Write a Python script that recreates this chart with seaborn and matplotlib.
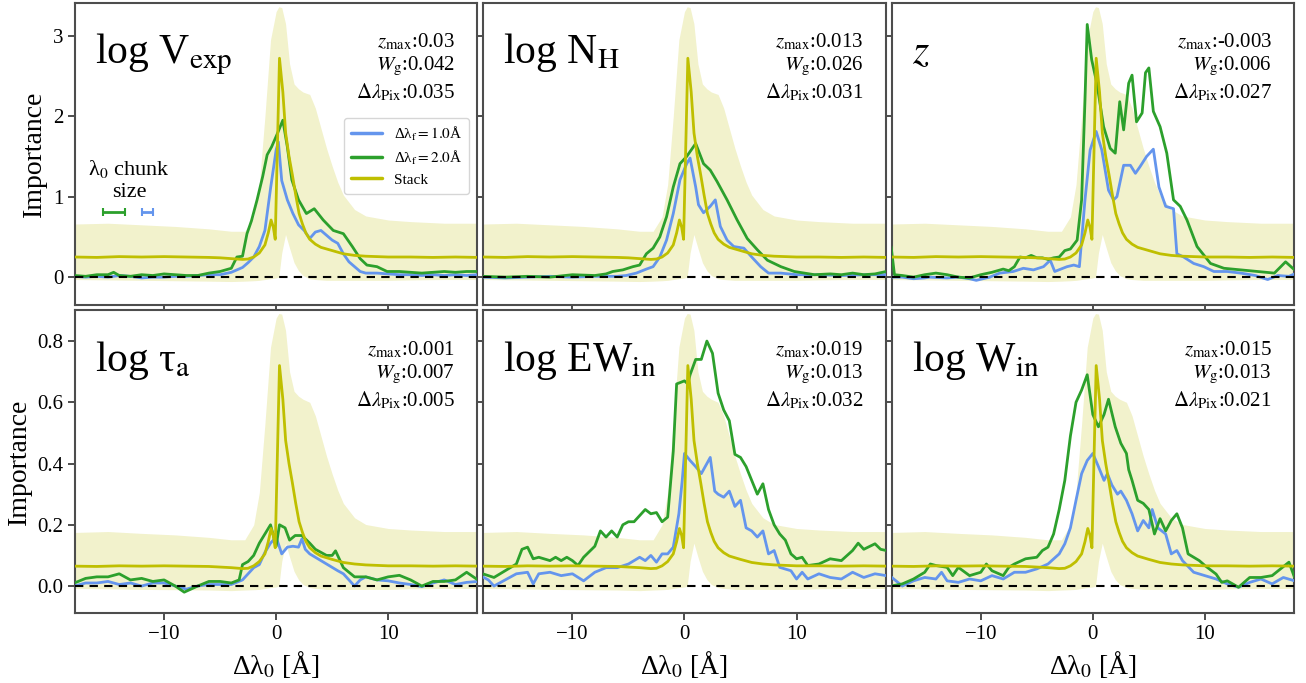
import numpy as np
import matplotlib
matplotlib.use("Agg")
import matplotlib.pyplot as plt
import seaborn as sns

# ---------------- data ----------------
titles = ["log V$_{\\rm exp}$", "log N$_{\\rm H}$", "$z$",
          "log τ$_{\\rm a}$", "log EW$_{\\rm in}$", "log W$_{\\rm in}$"]
zmax_vals = ["0.03", "0.013", "-0.003", "0.001", "0.019", "0.015"]
wg_vals = ["0.042", "0.026", "0.006", "0.007", "0.013", "0.013"]
dpix_vals = ["0.035", "0.031", "0.027", "0.005", "0.032", "0.021"]
legend_labels = ["Δλ$_{\\rm f}=1.0$Å", "Δλ$_{\\rm f}=2.0$Å", "Stack"]

stack_x = [-18, -16, -14, -12, -10, -8, -6, -5, -4, -3, -2.5, -2, -1.5, -1, -0.7, -0.45, -0.25, -0.08,
           0.3, 0.6, 0.85, 1.15, 1.45, 1.75, 2.05, 2.35, 2.65, 3.0, 3.5, 4, 5, 6, 7, 8, 10, 12, 14, 16, 18]
stack_top = [0.25, 0.245, 0.255, 0.25, 0.255, 0.25, 0.245, 0.24, 0.23, 0.22, 0.225, 0.25, 0.3, 0.4, 0.55, 0.71, 0.62, 0.47,
             2.72, 2.3, 1.79, 1.5, 1.27, 1.02, 0.79, 0.66, 0.55, 0.47, 0.41, 0.37, 0.33, 0.29, 0.27, 0.26, 0.25, 0.25, 0.245, 0.25, 0.245]
stack_bot = [0.065, 0.064, 0.066, 0.065, 0.066, 0.065, 0.064, 0.062, 0.06, 0.057, 0.058, 0.066, 0.08, 0.105, 0.145, 0.188, 0.165, 0.125,
             0.72, 0.61, 0.475, 0.4, 0.337, 0.27, 0.21, 0.175, 0.146, 0.125, 0.109, 0.098, 0.087, 0.077, 0.072, 0.069, 0.066, 0.066, 0.065, 0.066, 0.065]

band_x = [-18, -15, -12, -9, -6, -4, -2.8, -2, -1.5, -1, -0.5, 0, 0.24, 0.5, 0.84, 1.2, 1.6, 2.0, 2.4, 3.0,
          3.5, 4.0, 4.5, 5, 5.5, 6, 7, 8, 10, 12, 15, 18]
band_top_hi = [0.66, 0.67, 0.65, 0.63, 0.6, 0.57, 0.57, 0.75, 1.15, 2.0, 2.95, 3.3, 3.36, 3.35, 3.15, 2.65, 2.4, 2.34, 2.3, 2.27,
               2.1, 1.85, 1.6, 1.38, 1.18, 1.02, 0.84, 0.76, 0.71, 0.69, 0.67, 0.67]
band_top_lo = [-0.03, -0.035, -0.04, -0.045, -0.05, -0.055, -0.05, -0.045, -0.04, -0.03, -0.02, -0.01, 0.0, 0.3, 0.53, 0.36, 0.18, 0.08, 0.02, -0.02,
               -0.03, -0.035, -0.04, -0.04, -0.04, -0.04, -0.04, -0.04, -0.04, -0.035, -0.03, -0.03]
band_bot_hi = [0.175, 0.178, 0.172, 0.167, 0.159, 0.151, 0.151, 0.2, 0.305, 0.53, 0.78, 0.875, 0.89, 0.888, 0.835, 0.70, 0.636, 0.62, 0.61, 0.6,
               0.556, 0.49, 0.424, 0.366, 0.313, 0.27, 0.223, 0.201, 0.188, 0.183, 0.178, 0.178]
band_bot_lo = [-0.008, -0.009, -0.011, -0.012, -0.013, -0.015, -0.013, -0.012, -0.011, -0.008, -0.005, -0.003, 0.0, 0.08, 0.14, 0.095, 0.048, 0.021, 0.005, -0.005,
               -0.008, -0.009, -0.011, -0.011, -0.011, -0.011, -0.011, -0.011, -0.011, -0.009, -0.008, -0.008]

# log V_exp
vexp_b_x = [-18, -17, -16, -15, -14, -13, -12, -11, -10, -9, -8, -7, -6, -5, -4, -3, -2.5, -2, -1.5, -1, -0.5, 0, 0.2, 0.5,
            1, 1.5, 2, 2.5, 3, 3.5, 4, 4.5, 5, 5.5, 6, 6.5, 7, 7.5, 8, 9, 10, 11, 12, 13, 14, 15, 16, 17, 18]
vexp_b_y = [0.01, 0.0, 0.01, 0.0, 0.02, 0.01, -0.01, 0.0, 0.0, 0.01, 0.01, 0.02, 0.03, 0.03, 0.06, 0.12, 0.18, 0.25, 0.38, 0.58, 1.1, 1.58, 1.68, 1.2,
            0.96, 0.79, 0.65, 0.58, 0.48, 0.56, 0.58, 0.52, 0.46, 0.42, 0.29, 0.19, 0.13, 0.07, 0.05, 0.05, 0.04, 0.03, 0.03, 0.02, 0.03, 0.02, 0.03, 0.02, 0.03]
vexp_g_x = [-18, -17, -16, -15, -14.5, -14, -13, -12, -11, -10, -9, -8, -7, -6, -5, -4, -3.5, -3, -2.6, -2.2, -1.7, -1.2, -0.8, -0.4,
            0.1, 0.6, 1.0, 1.4, 2.0, 2.7, 3.4, 4.2, 5.1, 6.0, 6.8, 7.5, 8.1, 9.0, 9.9, 11, 12, 13, 14, 15, 16, 17, 18]
vexp_g_y = [0.02, 0.01, 0.03, 0.03, 0.06, 0.02, 0.01, 0.03, 0.02, 0.04, 0.03, 0.02, 0.02, 0.05, 0.07, 0.11, 0.25, 0.26, 0.54, 0.7, 0.96, 1.25, 1.52, 1.62,
            1.78, 1.95, 1.62, 1.21, 0.96, 0.79, 0.85, 0.71, 0.58, 0.54, 0.38, 0.23, 0.15, 0.13, 0.07, 0.07, 0.06, 0.05, 0.06, 0.07, 0.06, 0.07, 0.07]

# log N_H
nh_b_x = [-18, -16, -14, -12, -10, -8, -6, -5.2, -4.3, -3.4, -2.8, -2.2, -1.6, -1.0, -0.4, 0.2, 0.5, 1.0, 1.25, 1.7, 2.3, 2.75, 3.2,
          3.8, 4.4, 5.3, 6.0, 6.8, 7.5, 8.6, 10, 12, 14, 16, 18]
nh_b_y = [0.0, -0.01, 0.0, 0.01, 0.0, 0.01, 0.01, 0.02, 0.05, 0.1, 0.13, 0.25, 0.46, 0.79, 1.21, 1.41, 1.48, 1.12, 0.9, 0.8, 0.88, 0.96, 0.63,
          0.46, 0.38, 0.36, 0.25, 0.13, 0.05, 0.05, 0.03, 0.03, 0.02, 0.03, 0.03]
nh_g_x = [-18, -16, -14, -12, -10, -8, -7, -6.4, -5.5, -4.6, -4, -3.4, -2.8, -2.2, -1.6, -1.0, -0.4, 0.2, 1.0, 1.7, 2.3, 2.9, 3.8,
          4.7, 5.6, 6.5, 7.4, 8.6, 9.8, 11.6, 13, 14, 15, 16, 17, 18]
nh_g_y = [0.01, 0.0, 0.01, 0.0, 0.03, 0.02, 0.04, 0.07, 0.09, 0.13, 0.15, 0.29, 0.36, 0.5, 0.75, 1.12, 1.41, 1.5, 1.66, 1.41, 1.33, 1.19, 0.96,
          0.71, 0.48, 0.34, 0.21, 0.13, 0.07, 0.03, 0.04, 0.03, 0.05, 0.03, 0.04, 0.07]

# z
z_b_x = [-18, -17, -16, -15, -14.6, -13, -12, -11, -10.4, -9.2, -8.3, -7.1, -6.2, -5.3, -4.4, -3.8, -3.4, -2.3, -1.7, -1.2, -0.7, -0.24,
         0.3, 0.8, 1.4, 1.85, 2.15, 2.75, 3.35, 3.8, 4.2, 4.8, 5.4, 5.9, 6.5, 7.2, 7.5, 8.1, 9.0, 9.9, 10.8, 12, 13.2, 14.5, 15.6, 16.5, 17.5, 18]
z_b_y = [0.0, 0.0, -0.02, -0.01, 0.0, -0.01, 0.0, -0.02, -0.04, 0.0, 0.05, 0.07, 0.11, 0.09, 0.13, 0.21, 0.07, 0.13, 0.15, 0.13, 0.96, 1.58,
         1.81, 1.58, 1.08, 0.96, 1.0, 1.39, 1.39, 1.29, 1.37, 1.5, 1.59, 1.12, 0.88, 0.85, 0.29, 0.25, 0.17, 0.13, 0.07, 0.07, 0.05, 0.02, -0.03, 0.02, 0.01, 0.04]
z_g_x = [-18, -17.7, -17, -16, -15, -14, -13, -12, -11, -10, -9, -8, -7.5, -7, -6.5, -6, -5.5, -5, -4.5, -4,
         -3.5, -3, -2.5, -2, -1.4, -1.0, -0.7, -0.5, -0.1, 0.36, 0.96, 1.55, 2.0, 2.4, 2.75, 3.2, 3.5, 3.9, 4.4, 4.7,
         5.0, 5.4, 6.0, 6.6, 7.2, 7.8, 8.4, 9.3, 10.5, 11.7, 13.2, 14.7, 16.2, 17.2, 18]
z_g_y = [0.38, 0.03, 0.02, 0.0, 0.03, 0.05, 0.03, 0.0, -0.01, 0.03, 0.06, 0.1, 0.08, 0.13, 0.25, 0.24, 0.27, 0.24, 0.24, 0.22,
         0.24, 0.25, 0.33, 0.35, 0.46, 0.96, 2.2, 3.14, 2.7, 2.41, 1.87, 1.6, 1.54, 2.18, 1.83, 2.41, 2.51, 1.93, 2.04, 2.54,
         2.6, 2.06, 1.87, 1.54, 0.96, 0.88, 0.71, 0.38, 0.17, 0.11, 0.09, 0.07, 0.05, 0.19, 0.09]

# log tau_a
tau_b_x = [-18, -17, -16, -15, -14, -13, -12, -11, -10, -9, -8, -7, -6, -5, -4, -3, -2.5, -2, -1.5, -1, -0.5, 0, 0.5, 1,
           1.5, 2, 2.3, 2.6, 3, 3.5, 4, 4.5, 5, 5.5, 6, 6.5, 7, 7.5, 8, 9, 10, 11, 12, 13, 14, 15, 16, 17, 18]
tau_b_y = [0.0, 0.01, 0.01, 0.015, 0.005, 0.01, 0.0, 0.01, 0.01, 0.0, -0.01, 0.0, 0.005, 0.005, 0.005, 0.02, 0.04, 0.06, 0.07, 0.11, 0.14, 0.16, 0.105, 0.127,
           0.13, 0.127, 0.154, 0.12, 0.105, 0.094, 0.083, 0.072, 0.061, 0.05, 0.04, 0.02, 0.0, 0.02, 0.03, 0.02, 0.017, 0.01, 0.005, -0.002, 0.01, 0.02, 0.005, 0.012, 0.015]
tau_g_x = [-18, -17, -16, -15, -14, -13, -12, -11, -10, -9, -8.2, -7, -6, -5, -4, -3.3, -3, -2.5, -2, -1.5,
           -1, -0.5, 0, 0.3, 0.8, 1.2, 1.7, 2.3, 3, 3.5, 4, 4.5, 5, 5.3, 6, 7, 8, 9, 10, 11, 12, 13, 14, 15, 16, 17, 18]
tau_g_y = [0.01, 0.025, 0.03, 0.03, 0.04, 0.02, 0.025, 0.015, 0.02, 0.0, -0.02, 0.0, 0.015, 0.015, 0.01, 0.02, 0.07, 0.08, 0.1, 0.14,
           0.17, 0.2, 0.13, 0.2, 0.19, 0.15, 0.165, 0.165, 0.14, 0.12, 0.11, 0.1, 0.1, 0.115, 0.06, 0.03, 0.03, 0.02, 0.03, 0.035, 0.02, 0.0, 0.015, 0.015, 0.02, 0.045, 0.02]

# log EW_in
ew_b_x = [-18, -17.5, -17, -16, -15, -14, -13.5, -13, -12, -11, -10, -9, -8, -7, -6, -5, -4, -3.5, -3, -2.5,
          -2, -1.5, -1, -0.5, -0.2, 0, 0.5, 1, 1.5, 2, 2.3, 2.7, 3, 3.5, 4, 4.5, 5, 5.5, 6, 6.5,
          7, 7.5, 8, 8.5, 9.5, 10, 10.5, 11, 12, 13, 14, 15, 16, 17, 18]
ew_b_y = [0.03, 0.02, 0.0, 0.02, 0.04, 0.045, 0.007, 0.04, 0.045, 0.034, 0.04, 0.017, 0.045, 0.06, 0.06, 0.072, 0.094, 0.083, 0.1, 0.078,
          0.105, 0.105, 0.127, 0.236, 0.345, 0.433, 0.41, 0.39, 0.367, 0.4, 0.42, 0.31, 0.3, 0.29, 0.31, 0.26, 0.28, 0.19, 0.18, 0.16,
          0.18, 0.105, 0.116, 0.061, 0.05, 0.023, 0.045, 0.023, 0.04, 0.028, 0.023, 0.045, 0.028, 0.04, 0.034]
ew_g_x = [-18, -17, -16, -15, -14.5, -14, -13.5, -13, -12, -11.5, -11, -10.5, -10, -9.5, -9, -8, -7.5, -7, -6.5, -6,
          -5.5, -5, -4.5, -4, -3.5, -3, -2.5, -2, -1.5, -1, -0.7, 0, 0.3, 0.5, 1, 1.5, 2, 2.5, 3, 3.5,
          4, 4.5, 5, 5.5, 6, 6.5, 7, 7.5, 8, 8.5, 9, 9.5, 10, 10.5, 11, 12, 13, 14, 15, 15.5, 16, 17, 17.5, 18]
ew_g_y = [0.04, 0.028, 0.05, 0.072, 0.12, 0.127, 0.089, 0.094, 0.083, 0.094, 0.083, 0.094, 0.083, 0.067, 0.094, 0.13, 0.18, 0.16, 0.18, 0.16,
          0.2, 0.21, 0.21, 0.23, 0.25, 0.236, 0.24, 0.21, 0.225, 0.44, 0.66, 0.67, 0.66, 0.69, 0.74, 0.74, 0.8, 0.76, 0.63, 0.575,
          0.54, 0.43, 0.42, 0.39, 0.345, 0.3, 0.334, 0.25, 0.2, 0.17, 0.15, 0.105, 0.089, 0.094, 0.067, 0.072, 0.089, 0.083, 0.116, 0.14, 0.12, 0.138, 0.12, 0.116]

# log W_in
w_b_x = [-18, -17, -16, -15, -14, -13.5, -13, -12, -11, -10, -9, -8, -7, -6, -5, -4, -3, -2.5, -2, -1.5,
         -1, -0.5, 0, 0.5, 1, 1.3, 1.7, 2.2, 2.5, 3, 3.5, 4, 4.5, 5, 5.3, 5.8, 6.5, 7, 7.5, 8,
         9, 10, 11, 12, 13, 14, 15, 16, 17, 18]
w_b_y = [0.03, 0.0, 0.017, 0.028, 0.023, 0.045, 0.017, 0.012, 0.023, 0.017, 0.034, 0.023, 0.045, 0.045, 0.056, 0.072, 0.105, 0.138, 0.19, 0.28,
         0.367, 0.41, 0.433, 0.39, 0.345, 0.367, 0.33, 0.3, 0.31, 0.28, 0.236, 0.18, 0.214, 0.19, 0.25, 0.19, 0.17, 0.105, 0.116, 0.083,
         0.045, 0.034, 0.023, 0.007, -0.004, 0.012, 0.023, 0.007, 0.028, 0.017]
w_g_x = [-18, -17, -16, -15, -14.5, -14, -13, -12.5, -12, -11, -10, -9.5, -9, -8, -7.5, -7, -6, -5, -4.5, -4,
         -3.5, -3, -2.5, -2, -1.5, -1, -0.5, 0, 0.5, 1, 1.4, 2, 2.5, 3, 3.2, 3.5, 4, 4.5, 5, 5.5,
         6, 6.5, 7, 7.5, 8, 8.5, 9, 9.5, 10, 11, 11.5, 12, 13, 14, 15, 16, 17.5, 18]
w_g_y = [0.0, 0.007, 0.023, 0.045, 0.072, 0.067, 0.061, 0.034, 0.061, 0.034, 0.045, 0.072, 0.05, 0.034, 0.061, 0.072, 0.089, 0.094, 0.116, 0.127,
         0.17, 0.25, 0.345, 0.49, 0.6, 0.64, 0.69, 0.56, 0.52, 0.56, 0.61, 0.52, 0.466, 0.433, 0.38, 0.345, 0.28, 0.27, 0.25, 0.17,
         0.22, 0.18, 0.214, 0.236, 0.19, 0.105, 0.094, 0.083, 0.067, 0.039, 0.012, 0.017, -0.004, 0.028, 0.028, 0.034, 0.078, 0.028]

blue_series = [(vexp_b_x, vexp_b_y), (nh_b_x, nh_b_y), (z_b_x, z_b_y),
               (tau_b_x, tau_b_y), (ew_b_x, ew_b_y), (w_b_x, w_b_y)]
green_series = [(vexp_g_x, vexp_g_y), (nh_g_x, nh_g_y), (z_g_x, z_g_y),
                (tau_g_x, tau_g_y), (ew_g_x, ew_g_y), (w_g_x, w_g_y)]

chunk_sizes = [2.0, 1.0]   # Å
chunk_centers = [-14.45, -11.45]

# ---------------- style ----------------
sns.set_theme(style="ticks")
plt.rcParams['font.family'] = ['Liberation Serif', 'DejaVu Serif']
plt.rcParams['mathtext.fontset'] = 'stix'
plt.rcParams['axes.unicode_minus'] = True
for k in ['text.color', 'axes.labelcolor', 'xtick.labelcolor', 'ytick.labelcolor']:
    plt.rcParams[k] = 'black'

C_BLUE = '#6495ed'
C_GREEN = '#2ca02c'
C_STACK = '#bfbf00'
SPINE = '#4d4d4d'

fig, axes = plt.subplots(2, 3, figsize=(13.06, 6.83), dpi=100, sharex=True, sharey='row')
fig.subplots_adjust(left=0.0574, right=0.9908, top=0.996, bottom=0.1025, wspace=0.015, hspace=0.017)

for i, ax in enumerate(axes.flat):
    row = i // 3
    bx, by = blue_series[i]
    gx, gy = green_series[i]
    if row == 0:
        lo, hi, st = band_top_lo, band_top_hi, stack_top
    else:
        lo, hi, st = band_bot_lo, band_bot_hi, stack_bot
    ax.fill_between(band_x, lo, hi, color=C_STACK, alpha=0.2, lw=0, zorder=1)
    sns.lineplot(x=bx, y=by, ax=ax, color=C_BLUE, lw=2, estimator=None, sort=False,
                 label=legend_labels[0] if i == 0 else None, zorder=3)
    sns.lineplot(x=gx, y=gy, ax=ax, color=C_GREEN, lw=2, estimator=None, sort=False,
                 label=legend_labels[1] if i == 0 else None, zorder=3)
    sns.lineplot(x=stack_x, y=st, ax=ax, color=C_STACK, lw=2, estimator=None, sort=False,
                 label=legend_labels[2] if i == 0 else None, zorder=4)
    ax.axhline(0, color='black', ls=(0, (4, 3)), lw=1.5, zorder=5)

    ax.text(0.05, 0.80, titles[i], transform=ax.transAxes, fontsize=30,
            ha='left', va='baseline', color='black')
    ann = (f"$z_{{\\rm max}}$:{zmax_vals[i]}\n$W_{{\\rm g}}$:{wg_vals[i]}\n"
           f"$\\Delta\\lambda_{{\\rm Pix}}$:{dpix_vals[i]}")
    ax.text(0.945, 0.905, ann, transform=ax.transAxes, fontsize=15,
            ha='right', va='top', linespacing=1.2, color='black')

    for s in ax.spines.values():
        s.set_color(SPINE)
        s.set_linewidth(1.5)
    ax.tick_params(axis='both', direction='out', length=5, width=1.4, color=SPINE,
                   labelsize=15, labelcolor='black')
    ax.set_xlim(-17.95, 17.95)
    ax.set_xlabel("")
    ax.set_ylabel("")
    if i != 0 and ax.get_legend() is not None:
        ax.get_legend().remove()

axes[0, 0].set_ylim(-0.35, 3.41)
axes[1, 0].set_ylim(-0.088, 0.9)
axes[0, 0].set_yticks([0, 1, 2, 3])
axes[1, 0].set_yticks([0.0, 0.2, 0.4, 0.6, 0.8])
axes[1, 0].set_xticks([-10, 0, 10])

for r in range(2):
    axes[r, 0].set_ylabel("Importance", fontsize=20, color='black')
for c in range(3):
    axes[1, c].set_xlabel("Δλ$_0$ [Å]", fontsize=20, color='black')

ax0 = axes[0, 0]
leg = ax0.legend(loc='upper right', bbox_to_anchor=(0.98, 0.62), borderaxespad=0,
                 fontsize=11, frameon=True, fancybox=True, framealpha=0.8,
                 handlelength=2.0, labelspacing=0.4, borderpad=0.45, handletextpad=0.8)
leg.get_frame().set_edgecolor('#cccccc')
for line in leg.get_lines():
    line.set_linewidth(2.5)
for t in leg.get_texts():
    t.set_color('black')

# chunk size indicator
ax0.text(-13.1, 1.0, "λ$_0$ chunk\nsize", fontsize=16, ha='center', va='baseline',
         multialignment='center', color='black')
for c, w, col in zip(chunk_centers, chunk_sizes, [C_GREEN, C_BLUE]):
    ax0.errorbar([c], [0.81], xerr=[w / 2], color=col, lw=2, capsize=3, capthick=1.5, fmt='none')

fig.savefig("out.png", dpi=100)
